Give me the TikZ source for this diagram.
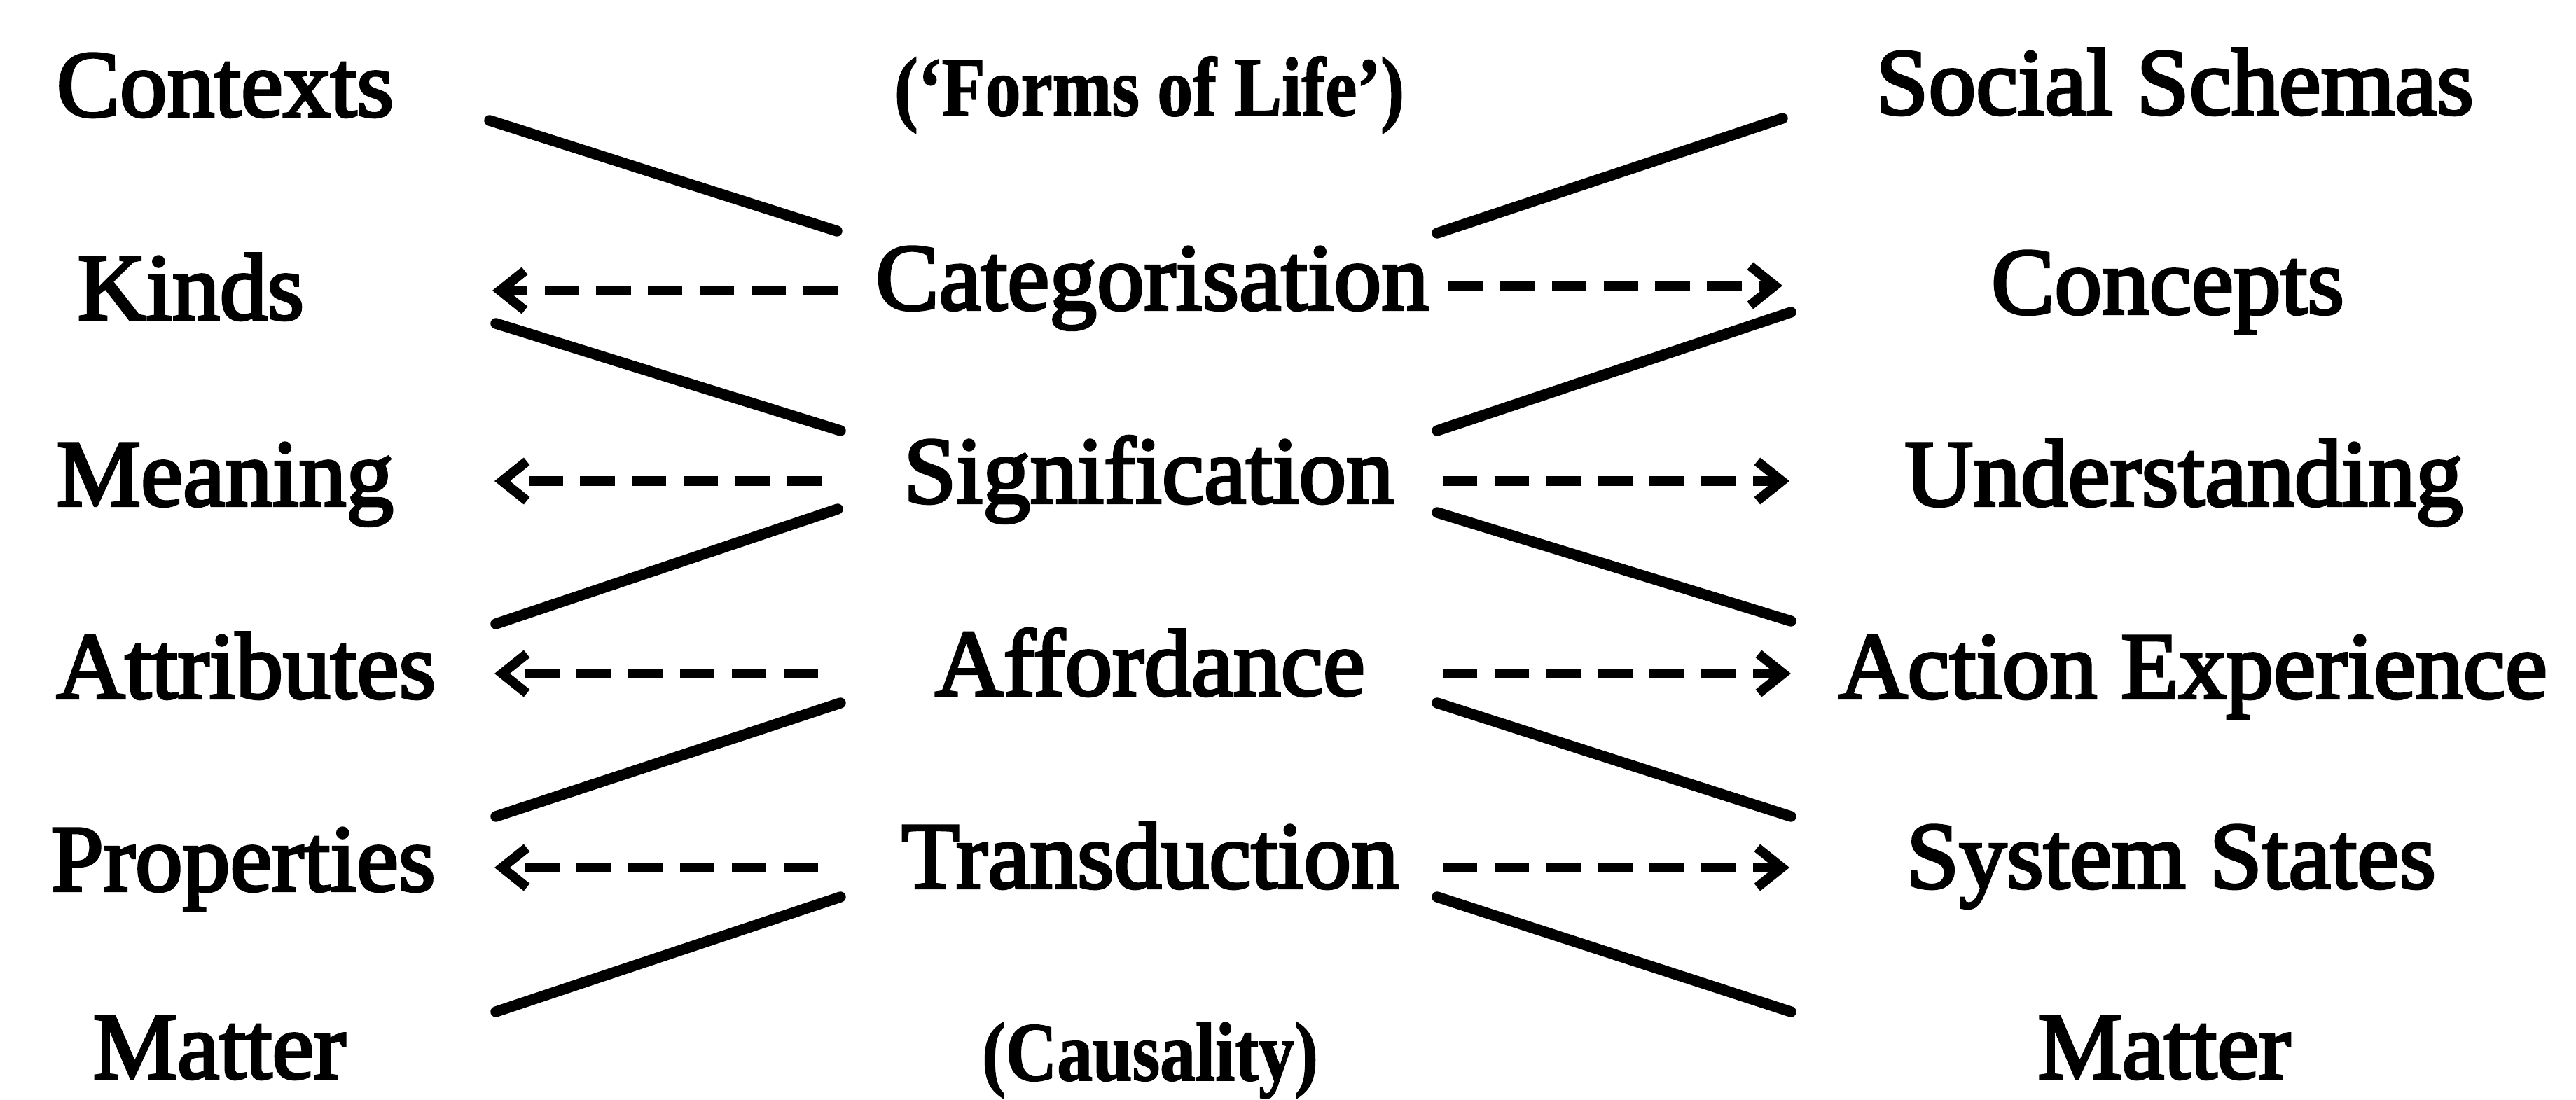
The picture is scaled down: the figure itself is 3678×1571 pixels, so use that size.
\documentclass[tikz,border=0pt]{standalone}
\usepackage{fontspec}
\usepackage{graphicx}
\usetikzlibrary{arrows.meta}
\newfontfamily\lblfont{Liberation Serif}[FakeBold=3]
\newfontfamily\notefont{Liberation Serif Bold}[FakeBold=1.5]
\newcommand{\squeeze}[1]{\scalebox{0.85}[1]{#1}}
\begin{document}
\begin{tikzpicture}[x=0.01cm,y=-0.01cm,
  lbl/.style={font=\lblfont\fontsize{38.5}{46}\selectfont, inner sep=0pt, anchor=base},
  lblw/.style={lbl, anchor=base west},
  note/.style={font=\notefont\fontsize{34}{40}\selectfont, inner sep=0pt, anchor=base},
  link/.style={line width=4.4pt, line cap=round},
  flow/.style={line width=3.9pt, dash pattern=on 14pt off 7pt,
    -{Straight Barb[length=10pt,width=16pt,line width=3.9pt]}}]
\useasboundingbox (0,0) rectangle (3678,1571);
% left column
\node[lblw] (contexts) at (80,166) {Contexts};
\node[lblw] (kinds) at (110,456) {Kinds};
\node[lblw] (meaning) at (80,722) {Meaning};
\node[lblw] (attributes) at (80,997) {Attributes};
\node[lblw] (properties) at (72,1272) {Properties};
\node[lblw] (matterL) at (132,1540) {Matter};
% middle column
\node[note] (forms) at (1641,165) {\squeeze{(‘Forms of Life’)}};
\node[lbl] (categ) at (1645,442) {Categorisation};
\node[lbl] (signif) at (1640,718) {Signification};
\node[lbl] (afford) at (1642,993) {Affordance};
\node[lbl] (transd) at (1642,1268) {Transduction};
\node[note] (causal) at (1642,1543) {\squeeze{(Causality)}};
% right column
\node[lbl] (social) at (3105,163) {Social Schemas};
\node[lbl] (concepts) at (3095,448) {Concepts};
\node[lbl] (underst) at (3118,722) {Understanding};
\node[lblw] (action) at (2625,997) {Action Experience};
\node[lbl] (sysst) at (3100,1268) {System States};
\node[lbl] (matterR) at (3090,1540) {Matter};
% connector end points
\coordinate (l1a) at (699,172); \coordinate (l1b) at (1195,330);
\coordinate (l2a) at (708,462); \coordinate (l2b) at (1200,615);
\coordinate (l3a) at (708,891); \coordinate (l3b) at (1196,727);
\coordinate (l4a) at (708,1166); \coordinate (l4b) at (1200,1004);
\coordinate (l5a) at (708,1445); \coordinate (l5b) at (1200,1281);
\coordinate (r1a) at (2052,333); \coordinate (r1b) at (2545,169);
\coordinate (r2a) at (2052,615); \coordinate (r2b) at (2557,446);
\coordinate (r3a) at (2052,732); \coordinate (r3b) at (2557,887);
\coordinate (r4a) at (2052,1004); \coordinate (r4b) at (2557,1166);
\coordinate (r5a) at (2052,1281); \coordinate (r5b) at (2557,1445);
% solid links
\draw[link] (l1a) -- (l1b);
\draw[link] (l2a) -- (l2b);
\draw[link] (l3a) -- (l3b);
\draw[link] (l4a) -- (l4b);
\draw[link] (l5a) -- (l5b);
\draw[link] (r1a) -- (r1b);
\draw[link] (r2a) -- (r2b);
\draw[link] (r3a) -- (r3b);
\draw[link] (r4a) -- (r4b);
\draw[link] (r5a) -- (r5b);
% dashed arrows
\coordinate (a2L) at (1196,415); \coordinate (a2Lt) at (703,415);
\coordinate (a3L) at (1173,687); \coordinate (a3Lt) at (706,687);
\coordinate (a4L) at (1168,962); \coordinate (a4Lt) at (706,962);
\coordinate (a5L) at (1168,1239); \coordinate (a5Lt) at (706,1239);
\coordinate (a2R) at (2068,408); \coordinate (a2Rt) at (2545,408);
\coordinate (a3R) at (2060,687); \coordinate (a3Rt) at (2555,687);
\coordinate (a4R) at (2060,962); \coordinate (a4Rt) at (2557,962);
\coordinate (a5R) at (2060,1239); \coordinate (a5Rt) at (2555,1239);
\draw[flow] (a2L) -- (a2Lt);
\draw[flow] (a3L) -- (a3Lt);
\draw[flow] (a4L) -- (a4Lt);
\draw[flow] (a5L) -- (a5Lt);
\draw[flow] (a2R) -- (a2Rt);
\draw[flow] (a3R) -- (a3Rt);
\draw[flow] (a4R) -- (a4Rt);
\draw[flow] (a5R) -- (a5Rt);
\end{tikzpicture}
\end{document}
